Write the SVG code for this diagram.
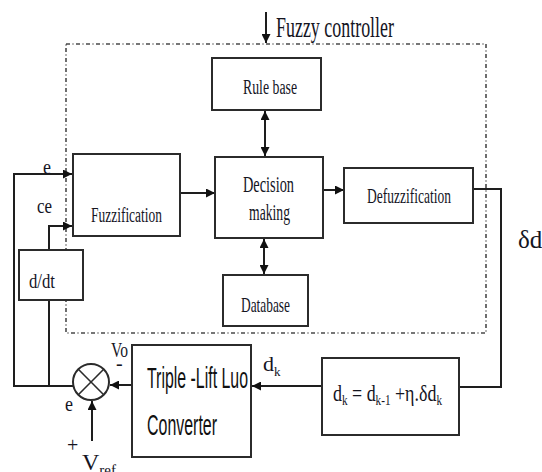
<svg xmlns="http://www.w3.org/2000/svg" width="542" height="472" viewBox="0 0 542 472">
  <style>
    .box { fill: #ffffff; stroke: #2b2b2b; stroke-width: 2; }
    .wire { fill: none; stroke: #1e1e1e; stroke-width: 2; }
    .frame { fill: none; stroke: #4a4a4a; stroke-width: 1.6; stroke-dasharray: 4 2.5 1 2.5; }
    .t { font-family: 'Liberation Serif', 'DejaVu Serif', serif; fill: #15151f; }
    .s { font-family: 'Liberation Sans', 'DejaVu Sans', sans-serif; fill: #111111; }
  </style>
  <defs>
    <marker id="head" viewBox="0 0 10 10" refX="10" refY="5" markerWidth="10" markerHeight="9" markerUnits="userSpaceOnUse" orient="auto-start-reverse">
      <path d="M0,0 L10,5 L0,10 z" fill="#111111"/>
    </marker>
  </defs>

  <!-- controller boundary -->
  <rect class="frame" x="66" y="44" width="420" height="289"/>

  <!-- connectors -->
  <g id="connectors">
    <line class="wire" x1="266" y1="12" x2="266" y2="43" marker-end="url(#head)"/>
    <line class="wire" x1="265" y1="111" x2="265" y2="156" marker-start="url(#head)" marker-end="url(#head)"/>
    <line class="wire" x1="264" y1="239" x2="264" y2="274" marker-start="url(#head)" marker-end="url(#head)"/>
    <line class="wire" x1="180" y1="193" x2="215" y2="193" marker-end="url(#head)"/>
    <line class="wire" x1="323" y1="190" x2="344" y2="190" marker-end="url(#head)"/>
    <polyline class="wire" points="473,189 501,189 501,387 459,387"/>
    <line class="wire" x1="322" y1="386" x2="252" y2="386" marker-end="url(#head)"/>
    <line class="wire" x1="132" y1="385" x2="110" y2="385" marker-end="url(#head)"/>
    <line class="wire" x1="92" y1="441" x2="92" y2="401" marker-end="url(#head)"/>
    <polyline class="wire" points="73,386 14,386 14,174 72,174" marker-end="url(#head)"/>
    <polyline class="wire" points="49,386 49,300"/>
    <polyline class="wire" points="49,250 49,226 72,226" marker-end="url(#head)"/>
  </g>

  <!-- title of the controller block -->
  <text class="t" font-family="Liberation Serif, serif" x="276" y="37" font-size="30" textLength="118" lengthAdjust="spacingAndGlyphs">Fuzzy controller</text>

  <g id="rule-base">
    <rect class="box" x="212" y="58" width="109" height="52"/>
    <text class="t" x="243" y="94" font-size="20" textLength="54" lengthAdjust="spacingAndGlyphs">Rule base</text>
  </g>

  <g id="fuzzification">
    <rect class="box" x="73" y="154" width="107" height="82"/>
    <text class="t" x="91" y="222" font-size="20" textLength="71" lengthAdjust="spacingAndGlyphs">Fuzzification</text>
  </g>

  <g id="decision-making">
    <rect class="box" x="215" y="157" width="108" height="81"/>
    <text class="t" x="243" y="192" font-size="23" textLength="51" lengthAdjust="spacingAndGlyphs">Decision</text>
    <text class="t" x="249" y="220" font-size="23" textLength="41" lengthAdjust="spacingAndGlyphs">making</text>
  </g>

  <g id="defuzzification">
    <rect class="box" x="344" y="168" width="129" height="55"/>
    <text class="t" x="367" y="203" font-size="22" textLength="84" lengthAdjust="spacingAndGlyphs">Defuzzification</text>
  </g>

  <g id="database">
    <rect class="box" x="223" y="275" width="85" height="51"/>
    <text class="t" x="241" y="312" font-size="21" textLength="49" lengthAdjust="spacingAndGlyphs">Database</text>
  </g>

  <g id="derivative">
    <rect class="box" x="19" y="250" width="64" height="50"/>
    <text class="t" x="29" y="288" font-size="22" textLength="26" lengthAdjust="spacingAndGlyphs">d/dt</text>
  </g>

  <g id="converter">
    <rect class="box" x="132" y="345" width="119" height="112"/>
    <text class="s" x="147" y="388" font-size="29" textLength="101" lengthAdjust="spacingAndGlyphs">Triple -Lift Luo</text>
    <text class="s" x="147" y="435" font-size="29" textLength="70" lengthAdjust="spacingAndGlyphs">Converter</text>
  </g>

  <g id="duty-update">
    <rect class="box" x="322" y="358" width="137" height="77"/>
    <text class="t" x="333" y="401" font-size="24" textLength="109" lengthAdjust="spacingAndGlyphs">d<tspan font-size="15" dy="4">k</tspan><tspan dy="-4"> = d</tspan><tspan font-size="15" dy="4">k-1</tspan><tspan dy="-4"> +η.δd</tspan><tspan font-size="15" dy="4">k</tspan></text>
  </g>

  <g id="summing-junction">
    <circle cx="91" cy="382" r="18" fill="#ffffff" stroke="#2b2b2b" stroke-width="2"/>
    <line x1="78.3" y1="369.3" x2="103.7" y2="394.7" stroke="#2b2b2b" stroke-width="1.6"/>
    <line x1="103.7" y1="369.3" x2="78.3" y2="394.7" stroke="#2b2b2b" stroke-width="1.6"/>
  </g>

  <!-- signal labels -->
  <text class="t" x="43" y="174" font-size="20" textLength="8" lengthAdjust="spacingAndGlyphs">e</text>
  <text class="t" x="37" y="213" font-size="20" textLength="15" lengthAdjust="spacingAndGlyphs">ce</text>
  <text class="t" x="518" y="248" font-size="25">δd<tspan font-size="16" dy="5">k</tspan></text>
  <text class="t" x="263" y="371" font-size="22">d<tspan font-size="13" dy="5">k</tspan></text>
  <text class="t" x="111" y="357" font-size="20" textLength="17" lengthAdjust="spacingAndGlyphs">Vo</text>
  <text class="t" x="116" y="370" font-size="20">-</text>
  <text class="t" x="65" y="411" font-size="20" textLength="8" lengthAdjust="spacingAndGlyphs">e</text>
  <text class="t" x="67" y="452" font-size="20">+</text>
  <text class="t" x="82" y="470" font-size="24">V<tspan font-size="15" dy="5">ref</tspan></text>
</svg>
